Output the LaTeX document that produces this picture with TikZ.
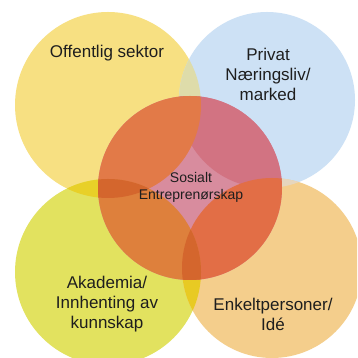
\documentclass[tikz,border=0pt]{standalone}
\usepackage{fontspec}
\setmainfont{Liberation Sans}
\usepackage{tikz}
\usetikzlibrary{positioning}
\definecolor{Yellow}{RGB}{247,224,130}
\definecolor{Blue}{RGB}{205,225,245}
\definecolor{Green}{RGB}{226,226,95}
\definecolor{Orange}{RGB}{244,206,140}
\definecolor{YellowGreen}{RGB}{232,208,40}
\definecolor{YellowBlue}{RGB}{222,220,170}
\definecolor{GreenOrange}{RGB}{232,202,35}
\definecolor{BlueOrange}{RGB}{230,214,190}
\definecolor{Red}{RGB}{216,140,158}
\definecolor{RedYellow}{RGB}{226,122,72}
\definecolor{RedBlue}{RGB}{210,115,130}
\definecolor{RedGreen}{RGB}{222,128,60}
\definecolor{RedOrange}{RGB}{226,110,70}
\definecolor{RedDeep}{RGB}{212,102,45}
\definecolor{Ink}{RGB}{30,30,30}
\tikzstyle{lbl}=[%
      align=center, text=Ink, inner sep=0pt,
      font=\fontsize{17}{20}\selectfont
]
\tikzstyle{mid}=[%
      align=center, text=Ink, inner sep=0pt,
      font=\fontsize{14}{17}\selectfont
]

\begin{document}
\begin{tikzpicture}[x=1pt, y=1pt]
    \clip (0,0) rectangle (357,358);
    \fill[white] (0,0) rectangle (357,358);

    \coordinate (off) at (108,253);
    \coordinate (priv) at (267,258);
    \coordinate (akad) at (108,86);
    \coordinate (enk) at (272,90);
    \coordinate (sos) at (190,170);

    % outer circles
    \fill[Yellow] (off) circle (93);
    \fill[Blue] (priv) circle (88);
    \fill[Green] (akad) circle (93);
    \fill[Orange] (enk) circle (90);

    % overlaps of the outer circles
    \begin{scope}
      \clip (off) circle (93);
      \fill[YellowGreen] (akad) circle (93);
      \fill[YellowBlue] (priv) circle (88);
    \end{scope}
    \begin{scope}
      \clip (enk) circle (90);
      \fill[GreenOrange] (akad) circle (93);
      \fill[BlueOrange] (priv) circle (88);
    \end{scope}

    % middle circle
    \fill[Red] (sos) circle (92);
    \begin{scope}
      \clip (sos) circle (92);
      \fill[RedBlue] (priv) circle (88);
      \fill[RedOrange] (enk) circle (90);
      \fill[RedYellow] (off) circle (93);
      \fill[RedGreen] (akad) circle (93);
      \begin{scope}
        \clip (akad) circle (93);
        \fill[RedDeep] (enk) circle (90);
        \fill[RedDeep] (off) circle (93);
      \end{scope}
    \end{scope}

    \node[lbl] (offl) at (107,305) {Offentlig sektor};
    \node[lbl] (privl) at (268,284) {Privat\\Næringsliv/\\marked};
    \node[lbl] (akadl) at (107,54) {Akademia/\\Innhenting av\\kunnskap};
    \node[lbl] (enkl) at (273,44) {Enkeltpersoner/\\Idé};
    \node[mid] (sosl) at (191,171) {Sosialt\\Entreprenørskap};
\end{tikzpicture}
\end{document}
